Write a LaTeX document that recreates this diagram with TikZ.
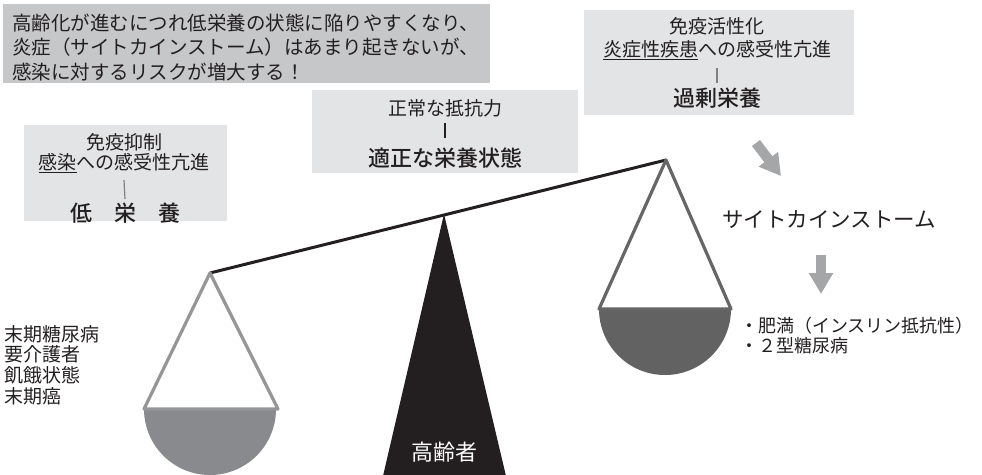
\documentclass[tikz,border=0pt]{standalone}
\usepackage{fontspec}
\setmainfont{Noto Sans CJK JP}[BoldFont={Noto Sans CJK JP Medium}]
\usetikzlibrary{arrows.meta}
\definecolor{boxdark}{HTML}{C6C7C9}
\definecolor{boxlight}{HTML}{E3E4E5}
\definecolor{panleft}{HTML}{898A8D}
\definecolor{panright}{HTML}{626263}
\definecolor{strleft}{HTML}{959698}
\definecolor{strright}{HTML}{666667}
\definecolor{arrowgray}{HTML}{A5A6A8}
\definecolor{ink}{HTML}{231F20}
\begin{document}
\begin{tikzpicture}[x=1pt,y=-1pt,
  boxshape/.style={draw=none, inner sep=0pt, anchor=north west},
  txt/.style={text=ink, inner sep=0pt, font=\fontsize{19}{24.5}\selectfont},
  bigtxt/.style={text=ink, inner sep=0pt, font=\fontsize{22}{26}\selectfont\bfseries},
  bar/.style={line width=1.2pt, draw=gray},
  panstring/.style={line width=3.2pt, line join=round},
  grayarrow/.style={-{Triangle[length=21pt,width=23pt]}, line width=10pt, draw=arrowgray}]
\useasboundingbox (0,0) rectangle (982,474);

% boxes
\node[boxshape, fill=boxdark, minimum width=487pt, minimum height=79pt] (b1) at (3,4) {};
\node[boxshape, fill=boxlight, minimum width=270pt, minimum height=105pt] (b2) at (584,10) {};
\node[boxshape, fill=boxlight, minimum width=266pt, minimum height=83pt] (b3) at (312,90) {};
\node[boxshape, fill=boxlight, minimum width=203pt, minimum height=96pt] (b4) at (24,125) {};

% box 1 text
\node[txt, anchor=west, align=left, font=\fontsize{19.5}{24.5}\selectfont] (t1) at (12,47.5)
  {高齢化が進むにつれ低栄養の状態に陥りやすくなり、\\炎症（サイトカインストーム）はあまり起きないが、\\感染に対するリスクが増大する！};

% box 2 text
\node[txt] (t2a) at (717,26) {免疫活性化};
\node[txt] (t2b) at (717,50) {\underline{炎症性疾患}への感受性亢進};
\node[bigtxt] (t2c) at (717,98) {過剰栄養};
\draw[bar] (t2b.south |- 0,68) coordinate (t2bar1) -- (t2c.north |- 0,83) coordinate (t2bar2);

% box 3 text
\node[txt] (t3a) at (445,108) {正常な抵抗力};
\node[bigtxt] (t3b) at (445,158) {適正な栄養状態};
\draw[line width=2.5pt, draw=ink] (t3a.south |- 0,123) -- (t3b.north |- 0,138);

% box 4 text
\node[txt] (t4a) at (124,142) {免疫抑制};
\node[txt] (t4b) at (124,163) {\underline{感染}への感受性亢進};
\node[bigtxt] (t4c) at (125,213) {低　栄　養};
\draw[bar] (t4b.south |- 0,180) -- (t4c.north |- 0,199);

% scale
\coordinate (lapex) at (210,273);
\coordinate (rapex) at (666,160);
\coordinate (fulcrum) at (444,214);
\fill[ink] (fulcrum) -- (383,476) -- (506,476) -- cycle;
\node[text=white, inner sep=0pt, font=\fontsize{22}{26}\selectfont] (elder) at (444,452) {高齢者};
\draw[line width=3pt, draw=ink] (lapex) -- (rapex);

% left pan
\fill[panleft] (144,409) arc[start angle=180, end angle=0, radius=66] -- cycle;
\draw[panstring, draw=strleft] (144,409) -- (lapex) -- (278,409) -- cycle;

% right pan
\fill[panright] (599,309) arc[start angle=180, end angle=0, radius=66] -- cycle;
\draw[panstring, draw=strright] (599,309) -- (rapex) -- (731,309) -- cycle;

% left list
\node[txt, anchor=north west, align=left, font=\fontsize{19}{20.7}\selectfont] (llist) at (4,325)
  {末期糖尿病\\要介護者\\飢餓状態\\末期癌};

% right side
\node[txt, font=\fontsize{21.5}{26}\selectfont, anchor=west] (storm) at (722,220) {サイトカインストーム};
\coordinate (a1s) at (756,143);
\coordinate (a1e) at (781,176);
\draw[grayarrow] (a1s) -- (a1e);
\coordinate (a2s) at (821,255);
\coordinate (a2e) at (821,294);
\draw[grayarrow] (a2s) -- (a2e);
\node[txt, anchor=north west, align=left, font=\fontsize{18}{20}\selectfont] (rlist) at (740,317)
  {・肥満（インスリン抵抗性）\\・２型糖尿病};
\end{tikzpicture}
\end{document}
